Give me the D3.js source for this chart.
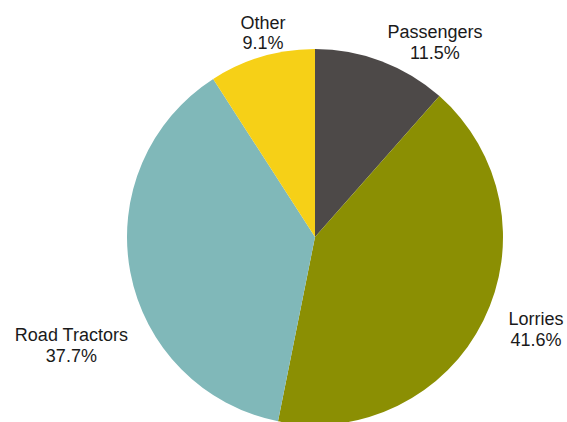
<!DOCTYPE html>
<html>
<head>
<meta charset="utf-8">
<script src="https://cdn.jsdelivr.net/npm/d3@7/dist/d3.min.js"></script>
<style>
  html, body { margin: 0; padding: 0; background: #ffffff; }
  svg { display: block; }
  text { font-family: "Liberation Sans", Arial, sans-serif; fill: #1a1a1a; }
</style>
</head>
<body>
<div id="chart"></div>
<script>
// Vehicle type shares (percent)
const categories = ["Passengers", "Lorries", "Road Tractors", "Other"];
const shares = [11.5, 41.6, 37.7, 9.1];
const colors = ["#4d4948", "#8b8f03", "#80b8b9", "#f6d017"];

const width = 567, height = 422;
const cx = 315, cy = 237, radius = 188;

const svg = d3.select("#chart").append("svg")
  .attr("width", width)
  .attr("height", height);

const data = categories.map((c, i) => ({ name: c, value: shares[i], color: colors[i] }));

const pie = d3.pie()
  .value(d => d.value)
  .sort(null)
  .startAngle(0)
  .endAngle(2 * Math.PI);

const arc = d3.arc().innerRadius(0).outerRadius(radius);

const g = svg.append("g").attr("transform", `translate(${cx},${cy})`);

const arcs = pie(data);

g.selectAll("path.slice")
  .data(arcs)
  .join("path")
  .attr("class", "slice")
  .attr("d", arc)
  .attr("fill", d => d.data.color);

// Label placement: radial distance and angle offset from each slice's mid-angle
const labelPlacement = {
  "Passengers":    { r: 230, da: 0.187 },
  "Lorries":       { r: 239, da: -0.070 },
  "Road Tractors": { r: 266, da: -0.226 },
  "Other":         { r: 212, da: 0.038 }
};

const fmt = d3.format(".1f");

const labels = g.selectAll("text.label")
  .data(arcs)
  .join("text")
  .attr("class", "label")
  .attr("text-anchor", "middle")
  .attr("font-size", 18)
  .attr("transform", d => {
    const p = labelPlacement[d.data.name];
    const a = (d.startAngle + d.endAngle) / 2 + p.da;
    const x = p.r * Math.sin(a);
    const y = -p.r * Math.cos(a);
    return `translate(${x},${y})`;
  });

labels.append("tspan")
  .attr("x", 0)
  .attr("dy", "-0.15em")
  .text(d => d.data.name);

labels.append("tspan")
  .attr("x", 0)
  .attr("dy", "1.15em")
  .text(d => fmt(d.data.value) + "%");
</script>
</body>
</html>
